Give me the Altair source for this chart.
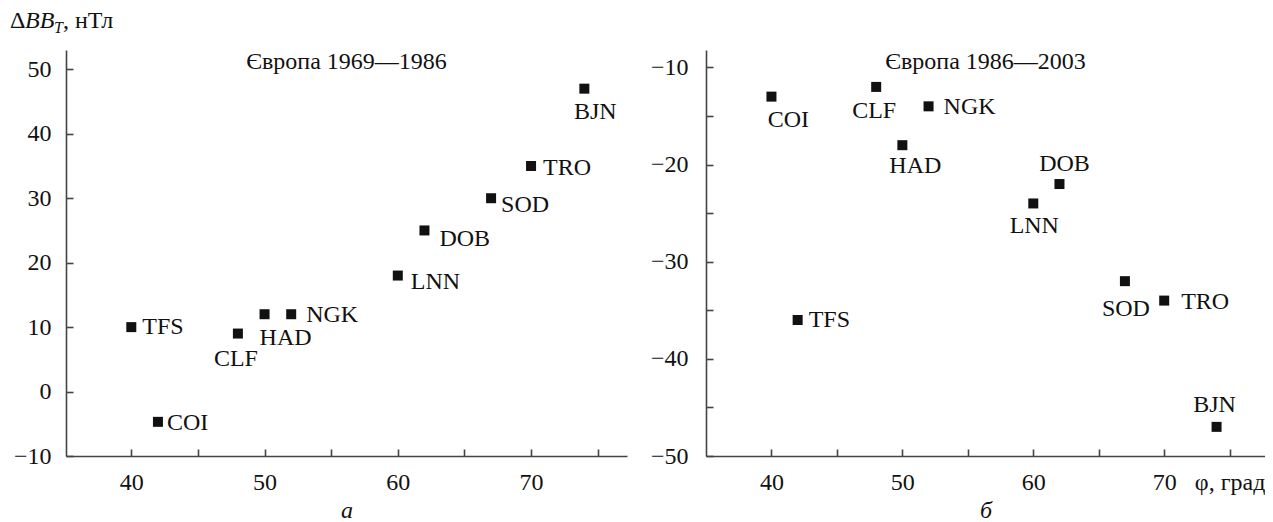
import altair as alt
import pandas as pd

# ---------------- data ----------------
# panel а: Європа 1969—1986
stations_a = ["TFS", "COI", "CLF", "HAD", "NGK", "LNN", "DOB", "SOD", "TRO", "BJN"]
lat_a = [40, 42, 48, 50, 52, 60, 62, 67, 70, 74]
dbb_a = [10, -4.7, 9, 12, 12, 18, 25, 30, 35, 47]

# panel б: Європа 1986—2003
stations_b = ["COI", "CLF", "NGK", "HAD", "DOB", "LNN", "SOD", "TRO", "TFS", "BJN"]
lat_b = [40, 48, 52, 50, 62, 60, 67, 70, 42, 74]
dbb_b = [-13, -12, -14, -18, -22, -24, -32, -34, -36, -47]

title_a = "Європа 1969—1986"
title_b = "Європа 1986—2003"
caption_a = "а"
caption_b = "б"
x_unit = "φ, град"
y_title_parts = ["Δ", "BB", "T", ", нТл"]

x_ticks = [40, 45, 50, 55, 60, 65, 70, 75]
y_ticks_a = [-10, 0, 10, 20, 30, 40, 50]
y_ticks_b = [-50, -45, -40, -35, -30, -25, -20, -15, -10]

# ---------------- style ----------------
FONT = "Liberation Serif"
INK = "#111111"
AXIS = "#444444"
H = 406

# label placement per station: (align, dx, dy)
place_a = {
    "TFS": ("left", 11, 0), "COI": ("left", 9, 1), "CLF": ("center", -2, 25),
    "HAD": ("center", 21, 24), "NGK": ("left", 15, 1), "LNN": ("left", 13, 6),
    "DOB": ("left", 15, 9), "SOD": ("left", 10, 7), "TRO": ("left", 12, 2),
    "BJN": ("center", 11, 23),
}
place_b = {
    "COI": ("center", 17, 23), "CLF": ("center", -2, 24), "NGK": ("left", 15, 1),
    "HAD": ("center", 13, 21), "DOB": ("center", 5, -20), "LNN": ("center", 1, 23),
    "SOD": ("center", 1, 28), "TRO": ("left", 17, 1), "TFS": ("left", 11, 0),
    "BJN": ("center", -2, -22),
}


def panel(stations, lat, dbb, xdom, ydom, yvals, width, title, caption,
          place, x_label_expr, y_label_pad, extra=()):
    df = pd.DataFrame({"station": stations, "lat": lat, "dbb": dbb})
    x = alt.X("lat:Q", scale=alt.Scale(domain=xdom, nice=False, zero=False),
              axis=alt.Axis(values=x_ticks, labelExpr=x_label_expr, title=caption,
                            titleFontStyle="italic", titleFontWeight="normal",
                            titleFont=FONT, titleFontSize=24, titleColor=INK,
                            titlePadding=4, labelPadding=21, labelFlush=False,
                            labelOverlap=False, tickSize={"expr": "-7"}))
    y = alt.Y("dbb:Q", scale=alt.Scale(domain=ydom, nice=False, zero=False),
              axis=alt.Axis(values=yvals,
                            labelExpr="datum.value % 10 === 0 ? datum.label : ''",
                            title=None, labelPadding=y_label_pad, labelFlush=False,
                            labelOverlap=False, tickSize={"expr": "-7"}))
    base = alt.Chart(df)
    layers = [base.mark_square(size=100, color=INK, opacity=1).encode(x=x, y=y)]
    for s, (al, dx, dy) in place.items():
        layers.append(
            base.transform_filter(alt.datum.station == s)
            .mark_text(align=al, baseline="middle", dx=dx, dy=dy, font=FONT,
                       fontSize=24, color=INK)
            .encode(x=x, y=y, text="station:N")
        )
    layers.append(
        alt.Chart(pd.DataFrame({"t": [title]}))
        .mark_text(align="center", baseline="middle", font=FONT, fontSize=24, color=INK)
        .encode(x=alt.value(width / 2), y=alt.value(12), text="t:N")
    )
    layers.extend(extra)
    return alt.layer(*layers).properties(width=width, height=H)


def ytitle_piece(text, xpos, ypos, size, italic):
    return (
        alt.Chart(pd.DataFrame({"t": [text]}))
        .mark_text(align="left", baseline="alphabetic", font=FONT, fontSize=size,
                   fontStyle="italic" if italic else "normal", color=INK)
        .encode(x=alt.value(xpos), y=alt.value(ypos), text="t:N")
    )


ytitle = [
    ytitle_piece(y_title_parts[0], -56, -22, 24, False),
    ytitle_piece(y_title_parts[1], -41, -22, 24, True),
    ytitle_piece(y_title_parts[2], -12, -17, 16, True),
    ytitle_piece(y_title_parts[3], -3, -22, 24, False),
]

left = panel(stations_a, lat_a, dbb_a, [35.1, 77.2], [-10, 53], y_ticks_a, 561,
             title_a, caption_a, place_a,
             "datum.value % 10 === 0 ? datum.label : ''", 22, extra=ytitle)
right = panel(stations_b, lat_b, dbb_b, [35, 77.7], [-50, -8.2], y_ticks_b, 559,
              title_b, caption_b, place_b,
              "datum.value === 75 ? '" + x_unit + "' : (datum.value % 10 === 0 ? datum.label : '')",
              25)

chart = (
    alt.hconcat(left, right, spacing=79, bounds="flush")
    .properties(padding={"left": 2, "top": 1, "right": 0, "bottom": 0},
                background="white")
    .configure_view(stroke=None)
    .configure_axis(grid=False, domainColor=AXIS, domainWidth=1.6, tickColor=AXIS,
                    tickWidth=1.6, labelFont=FONT, labelFontSize=24, labelColor=INK)
)

chart.save("out.html", embed_options={"renderer": "svg", "actions": False})
